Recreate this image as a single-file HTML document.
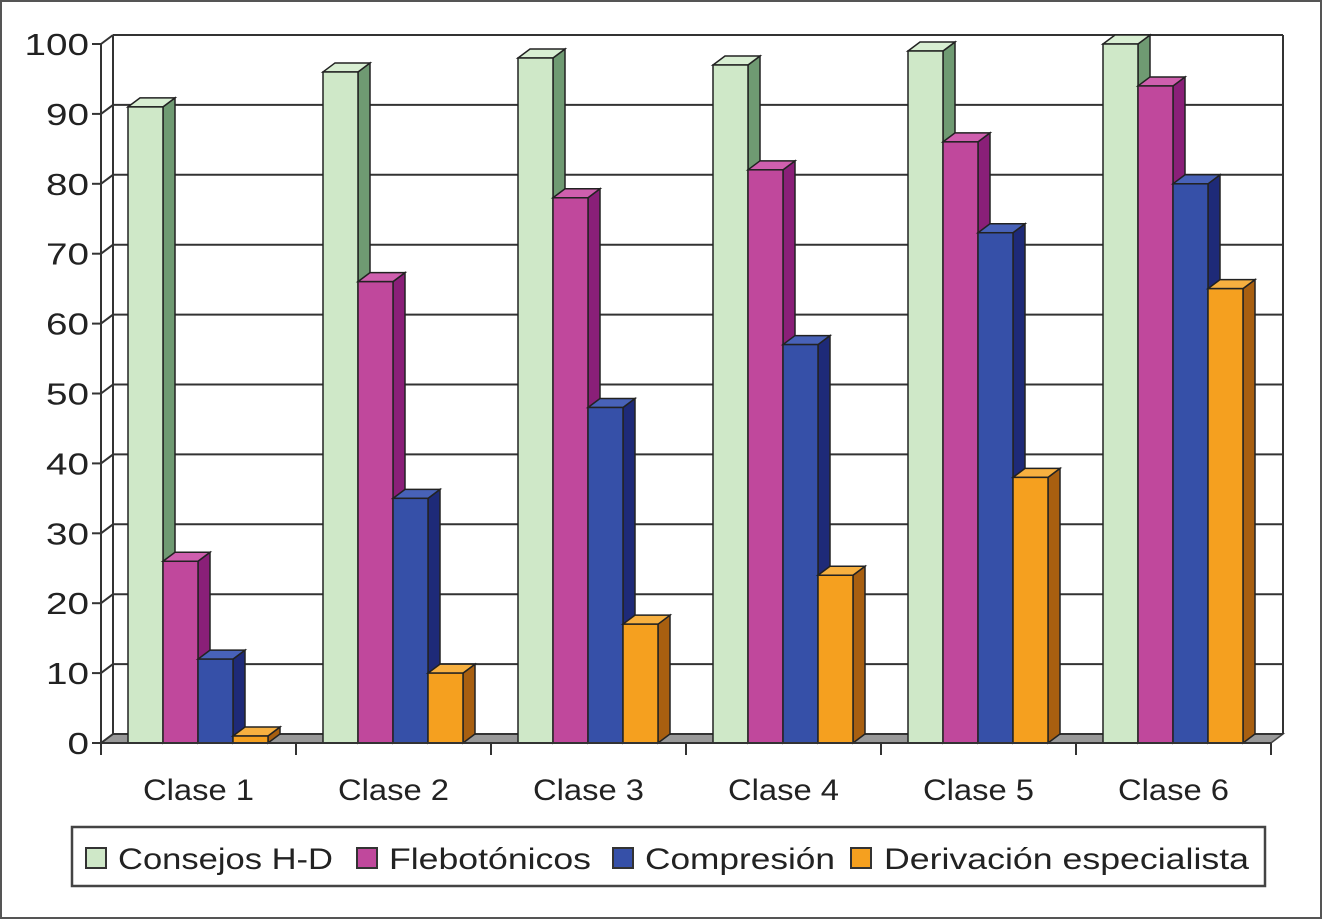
<!DOCTYPE html>
<html><head><meta charset="utf-8"><style>
body{margin:0;background:#fff;}
svg{display:block;font-family:"Liberation Sans",sans-serif;}
</style></head><body>
<svg width="1324" height="921" viewBox="0 0 1324 921">
<rect x="1" y="1" width="1320" height="917" fill="#fff" stroke="#555" stroke-width="2"/>
<g id="grid"></g>
<g id="bars"></g>
<g id="axes"></g>
<g>
<rect x="72" y="827" width="1193" height="59" fill="#fff" stroke="#444" stroke-width="2.5"/>
<rect x="86" y="848" width="20" height="20" fill="#cfe8c8" stroke="#333" stroke-width="2"/>
<text x="118" y="869" font-size="30" fill="#222" textLength="215" lengthAdjust="spacingAndGlyphs">Consejos H-D</text>
<rect x="357" y="848" width="20" height="20" fill="#c0489c" stroke="#333" stroke-width="2"/>
<text x="389" y="869" font-size="30" fill="#222" textLength="202" lengthAdjust="spacingAndGlyphs">Flebotónicos</text>
<rect x="613" y="848" width="20" height="20" fill="#3650a8" stroke="#333" stroke-width="2"/>
<text x="645" y="869" font-size="30" fill="#222" textLength="190" lengthAdjust="spacingAndGlyphs">Compresión</text>
<rect x="851" y="848" width="20" height="20" fill="#f5a01f" stroke="#333" stroke-width="2"/>
<text x="884" y="869" font-size="30" fill="#222" textLength="365" lengthAdjust="spacingAndGlyphs">Derivación especialista</text>
</g>
</svg>
<script>
const categories=["Clase 1","Clase 2","Clase 3","Clase 4","Clase 5","Clase 6"];
const consejos=[91,96,98,97,99,100];
const flebotonicos=[26,66,78,82,86,94];
const compresion=[12,35,48,57,73,80];
const derivacion=[1,10,17,24,38,65];
const yTicks=[0,10,20,30,40,50,60,70,80,90,100];
const seriesNames=["consejos","flebotonicos","compresion","derivacion"];

const NS="http://www.w3.org/2000/svg";
const X0=101,Y0=743,PX=6.99,CW=195,BW=35,DX=12,DY=-9;
const y=v=>Y0-v*PX;
const xCat=i=>X0+i*CW;
const fills=[["#cfe8c8","#d8eed2","#6f9a72"],["#c0489c","#cf5fae","#8a1f78"],["#3650a8","#4862b8","#1e2a78"],["#f5a01f","#f7b040","#a85f10"]];
function mk(tag,attrs,parent){const e=document.createElementNS(NS,tag);for(const k in attrs)e.setAttribute(k,attrs[k]);parent.appendChild(e);return e;}
const grid=document.getElementById('grid'),bars=document.getElementById('bars'),axes=document.getElementById('axes');
const xEnd=xCat(categories.length);
const fl=mk('polygon',{points:`${X0},${Y0} ${xEnd},${Y0} ${xEnd+DX},${Y0+DY} ${X0+DX},${Y0+DY}`,fill:'#999',stroke:'#444','stroke-width':1.5},grid);


yTicks.forEach(v=>{
  const g=mk('line',{x1:X0+DX,x2:xEnd+DX,y1:y(v)+DY,y2:y(v)+DY,stroke:'#333','stroke-width':2},grid);
  
  
  mk('line',{x1:X0,x2:X0+DX,y1:y(v),y2:y(v)+DY,stroke:'#333','stroke-width':2},grid);
  const t=mk('line',{x1:X0-9,x2:X0,y1:y(v),y2:y(v),stroke:'#333','stroke-width':2},axes);
  
  
  const s=String(v);
  const tx=mk('text',{x:X0-12,y:y(v)+11,'text-anchor':'end','font-size':31,fill:'#222',textLength:s.length*21.5,lengthAdjust:'spacingAndGlyphs'},axes);
  tx.textContent=s;
  
  
});
mk('line',{x1:X0+DX,x2:X0+DX,y1:y(100)+DY,y2:Y0+DY,stroke:'#333','stroke-width':2},grid);
mk('line',{x1:xEnd+DX,x2:xEnd+DX,y1:y(100)+DY,y2:Y0+DY,stroke:'#333','stroke-width':2},grid);
mk('line',{x1:X0,x2:X0,y1:y(100),y2:Y0+8,stroke:'#333','stroke-width':2},axes);
mk('line',{x1:X0,x2:xEnd,y1:Y0,y2:Y0,stroke:'#333','stroke-width':2},axes);
categories.forEach((c,i)=>{
  const t=mk('line',{x1:xCat(i),x2:xCat(i),y1:Y0,y2:Y0+12,stroke:'#333','stroke-width':2},axes);
  
  
  const tx=mk('text',{x:xCat(i)+CW/2,y:800,'text-anchor':'middle','font-size':30,fill:'#222',textLength:111,lengthAdjust:'spacingAndGlyphs'},axes);
  tx.textContent=c;
  
  
});
mk('line',{x1:xEnd,x2:xEnd,y1:Y0,y2:Y0+12,stroke:'#333','stroke-width':2},axes);
const series=[consejos,flebotonicos,compresion,derivacion];
categories.forEach((c,i)=>{
  series.forEach((s,j)=>{
    const x=xCat(i)+27+j*BW, top=y(s[i]);
    const g=mk('g',{},bars);
    
    
    const f=fills[j];
    mk('polygon',{points:`${x+BW},${top} ${x+BW+DX},${top+DY} ${x+BW+DX},${Y0+DY} ${x+BW},${Y0}`,fill:f[2],stroke:'#222','stroke-width':1.5},g);
    mk('polygon',{points:`${x},${top} ${x+DX},${top+DY} ${x+BW+DX},${top+DY} ${x+BW},${top}`,fill:f[1],stroke:'#222','stroke-width':1.5},g);
    mk('rect',{x:x,y:top,width:BW,height:Y0-top,fill:f[0],stroke:'#222','stroke-width':1.5},g);
  });
});
</script>
</body></html>
